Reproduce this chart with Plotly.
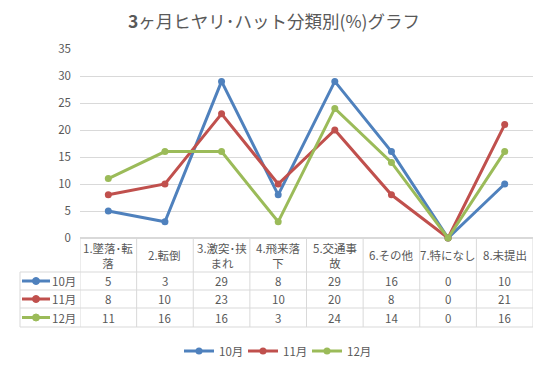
import plotly.graph_objects as go

categories = ["1.墜落･転<br>落", "2.転倒", "3.激突･挟<br>まれ", "4.飛来落<br>下",
              "5.交通事<br>故", "6.その他", "7.特になし", "8.未提出"]
series_names = ["10月", "11月", "12月"]
oct_vals = [5, 3, 29, 8, 29, 16, 0, 10]
nov_vals = [8, 10, 23, 10, 20, 8, 0, 21]
dec_vals = [11, 16, 16, 3, 24, 14, 0, 16]
colors = ["#4f81bd", "#c0504d", "#9bbb59"]
y_ticks = [0, 5, 10, 15, 20, 25, 30, 35]

OFF = 8                      # page body margin of the browser
W, H = 548 - OFF, 366 - OFF
# plot area in reference-window pixels
PL, PR, PT, PB = 80, 533, 49, 238
L, R, T, B = PL - OFF, W - (PR - OFF), PT - OFF, H - (PB - OFF)
PW, PH = W - L - R, H - T - B
FONT = "Noto Sans CJK JP, Noto Sans, sans-serif"
GRID = "#d9d9d9"
TXT = "#595959"

def py(px):  # reference pixel y -> paper y
    return ((PB - OFF) - (px - OFF)) / PH

def pxx(px):  # reference pixel x -> paper x
    return (px - PL) / PW

fig = go.Figure()
all_vals = [oct_vals, nov_vals, dec_vals]
for name, vals, c in zip(series_names, all_vals, colors):
    fig.add_trace(go.Scatter(
        x=list(range(len(categories))), y=vals, name=name, mode="lines+markers",
        line=dict(color=c, width=3), marker=dict(color=c, size=7),
        cliponaxis=False))

shapes = []
annotations = []
table_top = PB
header_bot = 272
row_edges = [272, 290, 308, 327]
left_px = 20
n = len(categories)

for i in range(n + 1):
    shapes.append(dict(type="line", xref="x", yref="paper", x0=i - 0.5, x1=i - 0.5,
                       y0=py(table_top), y1=py(row_edges[-1]),
                       line=dict(color=GRID, width=1)))
for e in row_edges:
    shapes.append(dict(type="line", xref="paper", yref="paper", x0=pxx(left_px), x1=1,
                       y0=py(e), y1=py(e), line=dict(color=GRID, width=1)))
shapes.append(dict(type="line", xref="paper", yref="paper", x0=pxx(left_px), x1=pxx(left_px),
                   y0=py(row_edges[0]), y1=py(row_edges[-1]), line=dict(color=GRID, width=1)))

for i, cat in enumerate(categories):
    annotations.append(dict(x=i, y=py((table_top + header_bot) / 2), xref="x", yref="paper",
                            text=cat, showarrow=False, yanchor="middle", xanchor="center",
                            font=dict(size=11.5, color=TXT, family=FONT), align="center"))
for r, (name, vals, c) in enumerate(zip(series_names, all_vals, colors)):
    cy = (row_edges[r] + row_edges[r + 1]) / 2
    for i, v in enumerate(vals):
        annotations.append(dict(x=i, y=py(cy), xref="x", yref="paper", text=str(v),
                                showarrow=False, yanchor="middle", xanchor="center",
                                font=dict(size=11.5, color=TXT, family=FONT)))
    annotations.append(dict(x=pxx(50), y=py(cy), xref="paper", yref="paper", text=name,
                            xanchor="left", yanchor="middle", showarrow=False,
                            font=dict(size=11.5, color=TXT, family=FONT)))
    shapes.append(dict(type="line", xref="paper", yref="paper", x0=pxx(22), x1=pxx(50),
                       y0=py(cy), y1=py(cy), line=dict(color=c, width=3)))
    shapes.append(dict(type="circle", xref="paper", yref="paper", x0=pxx(32.5), x1=pxx(39.5),
                       y0=py(cy + 3.5), y1=py(cy - 3.5), fillcolor=c, line=dict(color=c, width=1),
                       layer="above"))

fig.update_layout(
    width=W, height=H, margin=dict(l=L, r=R, t=T, b=B, autoexpand=False),
    paper_bgcolor="white", plot_bgcolor="white",
    font=dict(family=FONT, color=TXT, size=11),
    title=dict(text="<b>3</b>ヶ月ヒヤリ･ハット分類別(%)グラフ", x=(274 - OFF) / W, xref="container",
               xanchor="center", y=1 - (22 - OFF) / H, yref="container", yanchor="middle",
               font=dict(size=17.5, color=TXT, family=FONT)),
    xaxis=dict(range=[-0.5, n - 0.5], showticklabels=False, showgrid=False,
               zeroline=False, showline=False, fixedrange=True),
    yaxis=dict(range=[0, 35], tickvals=y_ticks, showgrid=True, gridcolor=GRID,
               zeroline=True, zerolinecolor=GRID, showline=False, ticks="",
               ticklabelstandoff=8,
               tickfont=dict(size=11.5, color=TXT), fixedrange=True),
    legend=dict(orientation="h", x=(275 - OFF) / W, xref="container", xanchor="center",
                y=1 - (351 - OFF) / H, yref="container", yanchor="middle",
                font=dict(size=11.5, color=TXT, family=FONT), itemwidth=30,
                entrywidth=19, entrywidthmode="pixels"),
    shapes=shapes, annotations=annotations,
)
fig.write_html("out.html")
